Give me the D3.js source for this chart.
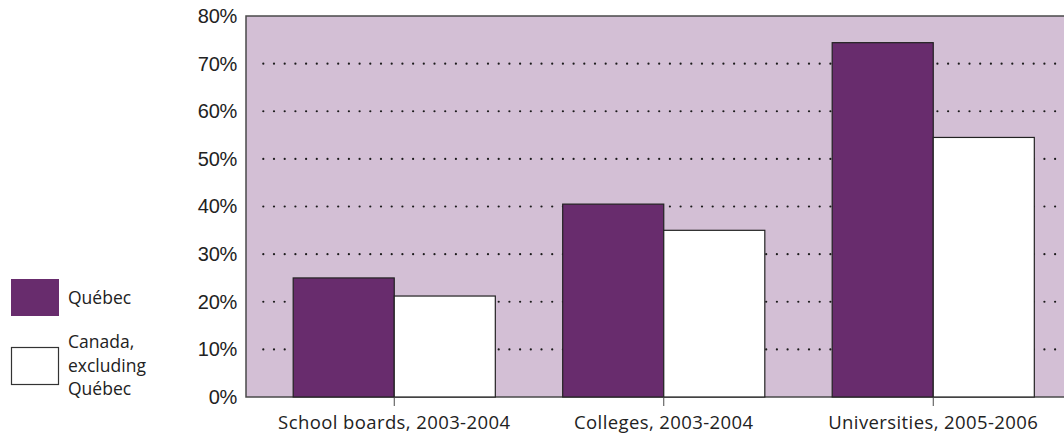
<!DOCTYPE html>
<html>
<head>
<meta charset="utf-8">
<script src="https://cdn.jsdelivr.net/npm/d3@7"></script>
<style>
  html, body { margin: 0; padding: 0; background: #fff; }
  svg { display: block; }
</style>
</head>
<body>
<svg id="chart" width="1064" height="434"></svg>
<script>
// Share of each sector, Québec vs. rest of Canada
const categories = ["School boards, 2003-2004", "Colleges, 2003-2004", "Universities, 2005-2006"];
const seriesNames = ["Québec", "Canada, excluding Québec"];
const quebecValues = [25, 40.5, 74.4];
const canadaValues = [21.2, 35, 54.5];
const yTicks = [0, 10, 20, 30, 40, 50, 60, 70, 80];

const colors = { "Québec": "#682c6d", "Canada, excluding Québec": "#ffffff" };
const plotBg = "#d3bfd5";
const frame = "#4a4a4a";

const svg = d3.select("#chart");
const plot = { left: 246, top: 16, bottom: 397, right: 1070 };

const y = d3.scaleLinear().domain([0, 80]).range([plot.bottom, plot.top]);
const x = d3.scaleBand().domain(categories).range([259.5, 1068]).paddingInner(0.25).paddingOuter(0.125);
const xs = d3.scaleBand().domain(seriesNames).range([0, x.bandwidth()]);

// plot background with frame
svg.append("rect")
  .attr("x", plot.left).attr("y", plot.top)
  .attr("width", plot.right - plot.left).attr("height", plot.bottom - plot.top)
  .attr("fill", plotBg).attr("stroke", frame).attr("stroke-width", 1.5);

// dotted gridlines
const grid = svg.append("g");
yTicks.filter(t => t > 0 && t < 80).forEach(t => {
  const yy = y(t);
  const dots = d3.range(263.3, 1064, 10.7);
  grid.selectAll(null).data(dots).enter().append("circle")
    .attr("cx", d => d).attr("cy", yy).attr("r", 1.1).attr("fill", "#1a1a1a");
});

// bars
const rows = categories.map((c, i) => ({ cat: c, values: [
  { key: seriesNames[0], v: quebecValues[i] },
  { key: seriesNames[1], v: canadaValues[i] }
]}));
const groups = svg.append("g").selectAll("g").data(rows).enter().append("g")
  .attr("transform", d => `translate(${x(d.cat)},0)`);
groups.selectAll("rect").data(d => d.values).enter().append("rect")
  .attr("x", d => xs(d.key)).attr("y", d => y(d.v))
  .attr("width", xs.bandwidth()).attr("height", d => y(0) - y(d.v))
  .attr("fill", d => colors[d.key]).attr("stroke", "#222").attr("stroke-width", 1.2);

// y axis
const yAxis = d3.axisLeft(y).tickValues(yTicks).tickSize(0).tickPadding(9).tickFormat(d => d + "%");
const ya = svg.append("g").attr("transform", `translate(${plot.left},0)`).call(yAxis);
ya.select(".domain").remove();
ya.selectAll("text").attr("font-family", "Liberation Sans, Arial, sans-serif").attr("font-size", 20)
  .attr("letter-spacing", -0.3).attr("fill", "#222");

// x axis
const xAxis = d3.axisBottom(x).tickSize(9).tickPadding(10);
const xa = svg.append("g").attr("transform", `translate(0,${plot.bottom})`).call(xAxis);
xa.select(".domain").remove();
xa.selectAll("line").attr("stroke", frame);
xa.selectAll("text").attr("font-family", "Open Sans, sans-serif").attr("font-size", 18.5)
  .attr("letter-spacing", 0.4).attr("fill", "#222");

// legend
const lg = svg.append("g");
lg.append("rect").attr("x", 11).attr("y", 279).attr("width", 48).attr("height", 37)
  .attr("fill", colors["Québec"]);
lg.append("rect").attr("x", 11.5).attr("y", 347.5).attr("width", 47).attr("height", 37)
  .attr("fill", colors["Canada, excluding Québec"]).attr("stroke", "#333").attr("stroke-width", 1.2);
const lt = (txt, yy) => lg.append("text").attr("x", 68).attr("y", yy).text(txt)
  .attr("font-family", "Open Sans, sans-serif").attr("font-size", 17.5).attr("fill", "#222");
lt("Québec", 304);
lt("Canada,", 348);
lt("excluding", 371.5);
lt("Québec", 395);
</script>
</body>
</html>
